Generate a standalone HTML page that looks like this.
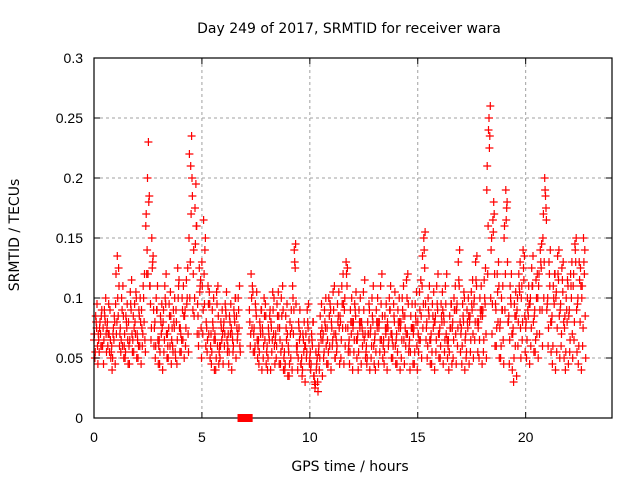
<!DOCTYPE html>
<html><head><meta charset="utf-8"><style>
html,body{margin:0;padding:0;background:#fff}
svg{display:block;font-family:"Liberation Sans",sans-serif}
.dv{font-family:"DejaVu Sans","Liberation Sans",sans-serif}
</style></head><body>
<svg id="chart" width="640" height="480">
<rect width="640" height="480" fill="#fff"/>
<g id="grid"></g>
<g id="marks"></g>
<g id="axes"></g>
<text class="dv" x="349" y="33" font-size="14" text-anchor="middle">Day 249 of 2017, SRMTID for receiver wara</text>
<text class="dv" x="350" y="471" font-size="14" text-anchor="middle">GPS time / hours</text>
<text class="dv" transform="translate(19,235) rotate(-90)" font-size="14" text-anchor="middle">SRMTID / TECUs</text>
</svg>
<script>
const xTicks=[0,5,10,15,20];
const yTicks=[0,0.05,0.1,0.15,0.2,0.25,0.3];
const yTickLabels=["0","0.05","0.1","0.15","0.2","0.25","0.3"];
const stepHours=0.2;
const seriesA=[65,70,60,75,55,95,70,60,80,65,70,90,160,110,75,60,80,70,65,90,75,85,150,120,95,130,80,60,70,55,75,60,70,85,null,null,90,70,60,75,55,80,65,75,50,60,110,55,45,60,50,35,55,65,75,80,70,85,90,60,75,65,80,55,70,65,75,60,80,70,65,75,85,60,70,80,110,75,65,80,70,85,60,75,90,70,65,80,95,75,85,190,140,95,75,150,80,70,90,100,75,95,85,110,150,95,80,100,90,75,85,110,95,100];
const seriesB=[50,55,45,60,40,70,55,50,45,55,50,60,120,65,50,45,55,50,60,45,55,60,100,85,60,70,55,45,40,50,60,45,55,65,null,null,60,55,45,50,40,55,50,45,40,35,70,40,35,50,40,25,40,50,45,60,55,50,60,45,55,40,60,45,50,40,55,45,60,50,45,50,60,40,45,55,75,50,45,55,50,55,40,50,60,45,50,55,65,50,55,120,70,60,50,90,45,30,60,65,50,60,55,70,100,60,45,55,60,40,55,65,45,60];
const seriesC=[85,80,90,95,70,135,100,85,105,95,90,110,200,150,100,85,110,95,90,125,100,115,210,175,125,165,110,90,105,80,95,85,90,100,null,null,120,95,80,100,75,105,95,100,85,80,140,80,70,90,70,55,85,90,100,105,95,110,130,90,95,90,105,80,100,90,110,85,100,95,90,100,115,85,95,105,150,100,95,110,95,110,85,100,130,95,90,105,130,100,115,240,165,120,100,190,110,95,120,140,100,125,115,140,200,130,110,135,125,100,120,145,130,150];
const seriesD=[75,60,80,55,65,85,60,75,90,70,60,80,230,130,90,70,95,60,75,110,65,100,235,195,110,95,70,75,60,65,85,70,80,75,null,null,75,85,70,65,65,70,75,60,65,50,125,65,55,75,60,45,65,75,60,70,85,75,110,70,85,75,65,70,80,75,65,70,90,80,75,85,70,75,80,65,125,85,75,90,80,70,75,90,110,80,75,90,110,85,95,225,180,80,90,175,95,60,105,115,85,110,70,125,185,110,95,115,105,80,100,130,80,120];
const seriesE=[60,90,70,65,80,110,85,65,70,100,80,65,185,90,65,75,70,85,55,75,85,70,185,160,75,150,95,65,85,70,65,75,100,60,null,null,105,65,90,85,90,60,85,90,70,75,95,70,60,65,80,30,75,60,90,50,75,95,75,80,65,80,70,90,60,80,85,75,70,60,80,65,95,75,60,85,95,65,80,70,90,65,95,70,80,100,85,70,80,90,70,260,120,110,65,130,70,85,75,85,95,80,100,90,165,80,120,85,80,110,70,90,110,85];
const seriesF=[70,65,75,80,60,120,75,70,60,85,65,75,170,95,80,65,90,60,75,80,70,90,220,140,85,110,75,70,65,60,80,70,65,75,null,null,80,75,65,70,60,75,70,65,55,55,100,60,50,70,55,30,60,70,65,75,65,80,100,65,80,70,75,60,75,70,80,65,75,65,70,80,75,65,75,70,135,80,70,85,75,80,65,80,95,75,70,85,100,80,90,210,150,90,80,160,85,75,100,110,80,100,90,120,170,100,85,105,95,85,90,120,100,110];
const seriesG=[55,75,65,70,50,80,65,55,65,75,60,70,140,75,60,55,65,75,55,65,65,75,130,100,70,90,65,55,50,60,70,55,60,70,null,null,70,60,55,60,50,65,60,55,45,45,90,50,40,55,45,28,50,55,55,65,60,65,75,55,65,55,70,50,60,55,65,55,65,60,55,65,70,55,55,65,95,60,55,65,60,65,55,65,75,60,55,65,80,65,65,160,95,75,60,120,65,50,80,80,65,75,65,90,130,75,60,75,70,55,65,80,60,75];
const seriesH=[80,70,85,70,75,100,90,80,95,80,85,100,120,125,90,80,100,85,80,100,90,95,170,145,105,120,95,80,95,75,90,80,85,90,null,null,100,90,75,85,70,90,85,85,75,70,130,75,65,80,65,40,70,80,85,90,80,95,120,80,90,80,90,70,85,80,95,75,90,85,80,90,100,75,85,90,140,90,85,95,85,95,75,90,115,85,80,95,115,90,100,250,155,105,90,165,100,85,110,125,90,110,100,130,190,120,100,120,115,90,110,140,115,130];
const seriesI=[95,85,100,90,85,125,110,95,115,105,100,120,180,135,110,95,120,105,100,115,110,125,200,160,115,140,105,100,110,90,105,95,100,110,null,null,110,105,90,95,85,100,105,110,95,90,145,90,80,95,80,50,95,100,95,110,105,120,125,100,105,100,115,95,110,100,120,95,110,105,100,110,120,95,105,115,155,110,105,120,105,120,95,110,140,105,100,115,135,110,125,235,170,130,110,180,120,105,130,135,110,135,120,145,175,140,120,140,130,115,130,150,125,140];
const seriesJ=[45,60,55,50,45,60,50,45,55,50,45,55,110,60,45,40,50,45,50,55,50,55,90,70,50,60,50,40,45,45,55,40,50,55,null,null,55,50,40,45,40,45,45,40,35,40,60,45,30,45,35,22,35,45,40,50,45,45,55,40,50,45,50,40,45,45,50,40,50,45,40,45,55,45,40,50,65,45,40,50,45,50,45,45,55,40,45,50,55,45,50,100,60,50,45,80,40,35,50,55,45,55,50,60,90,55,40,50,50,45,50,55,40,50];
const allSeries=[seriesA,seriesB,seriesC,seriesD,seriesE,seriesF,seriesG,seriesH,seriesI,seriesJ];
const seriesOffsets=[0,0.04,0.08,0.12,0.16,0.02,0.06,0.1,0.14,0.18];
const gapStart=6.65, gapEnd=7.35;

const L=94,R=612,T=58,B=418,XMAX=24,YMAX=0.3;
const xs=h=>L+(R-L)*h/XMAX;
const ys=v=>B-(B-T)*v/YMAX;
const NS="http://www.w3.org/2000/svg";
function mk(tag,attrs,parent){const e=document.createElementNS(NS,tag);for(const k in attrs)e.setAttribute(k,attrs[k]);parent.appendChild(e);return e;}
const grid=document.getElementById('grid'),axes=document.getElementById('axes'),marks=document.getElementById('marks');

yTicks.forEach((v,i)=>{
  const y=ys(v);
  if(i>0&&i<yTicks.length-1){const g=mk('line',{x1:L,x2:R,y1:y,y2:y,stroke:'#a0a0a0','stroke-dasharray':'3,3'},grid);
  
  }
  mk('line',{x1:L,x2:L+6,y1:y,y2:y,stroke:'#000'},axes);
  mk('line',{x1:R-6,x2:R,y1:y,y2:y,stroke:'#000'},axes);
  const t=mk('text',{x:L-11,y:y+5,'font-size':14,'text-anchor':'end'},axes);
  t.textContent=yTickLabels[i];
  
  
});
xTicks.forEach((h,i)=>{
  const x=xs(h);
  if(i>0){const g=mk('line',{x1:x,x2:x,y1:T,y2:B,stroke:'#a0a0a0','stroke-dasharray':'3,3'},grid);
  
  }
  mk('line',{x1:x,x2:x,y1:B,y2:B-6,stroke:'#000'},axes);
  mk('line',{x1:x,x2:x,y1:T,y2:T+6,stroke:'#000'},axes);
  const t=mk('text',{x:x,y:B+24,'font-size':14,'text-anchor':'middle'},axes);
  t.textContent=String(h);
  
  
});
const frame=mk('rect',{x:L,y:T,width:R-L,height:B-T,fill:'none',stroke:'#000','stroke-width':1.2},axes);


const gap=mk('rect',{x:xs(gapStart),y:B-4,width:xs(gapEnd)-xs(gapStart),height:8,fill:'#f00'},axes);



let d='';
allSeries.forEach((s,si)=>{
  s.forEach((v,i)=>{
    if(v===null)return;
    const x=xs(i*stepHours+seriesOffsets[si]),y=ys(v/1000);
    d+=`M${(x-4).toFixed(1)} ${y.toFixed(1)}h8M${x.toFixed(1)} ${(y-4).toFixed(1)}v8`;
  });
});
const p=mk('path',{d:d,stroke:'#f00','stroke-width':1.2,fill:'none'},marks);


</script>
</body></html>
